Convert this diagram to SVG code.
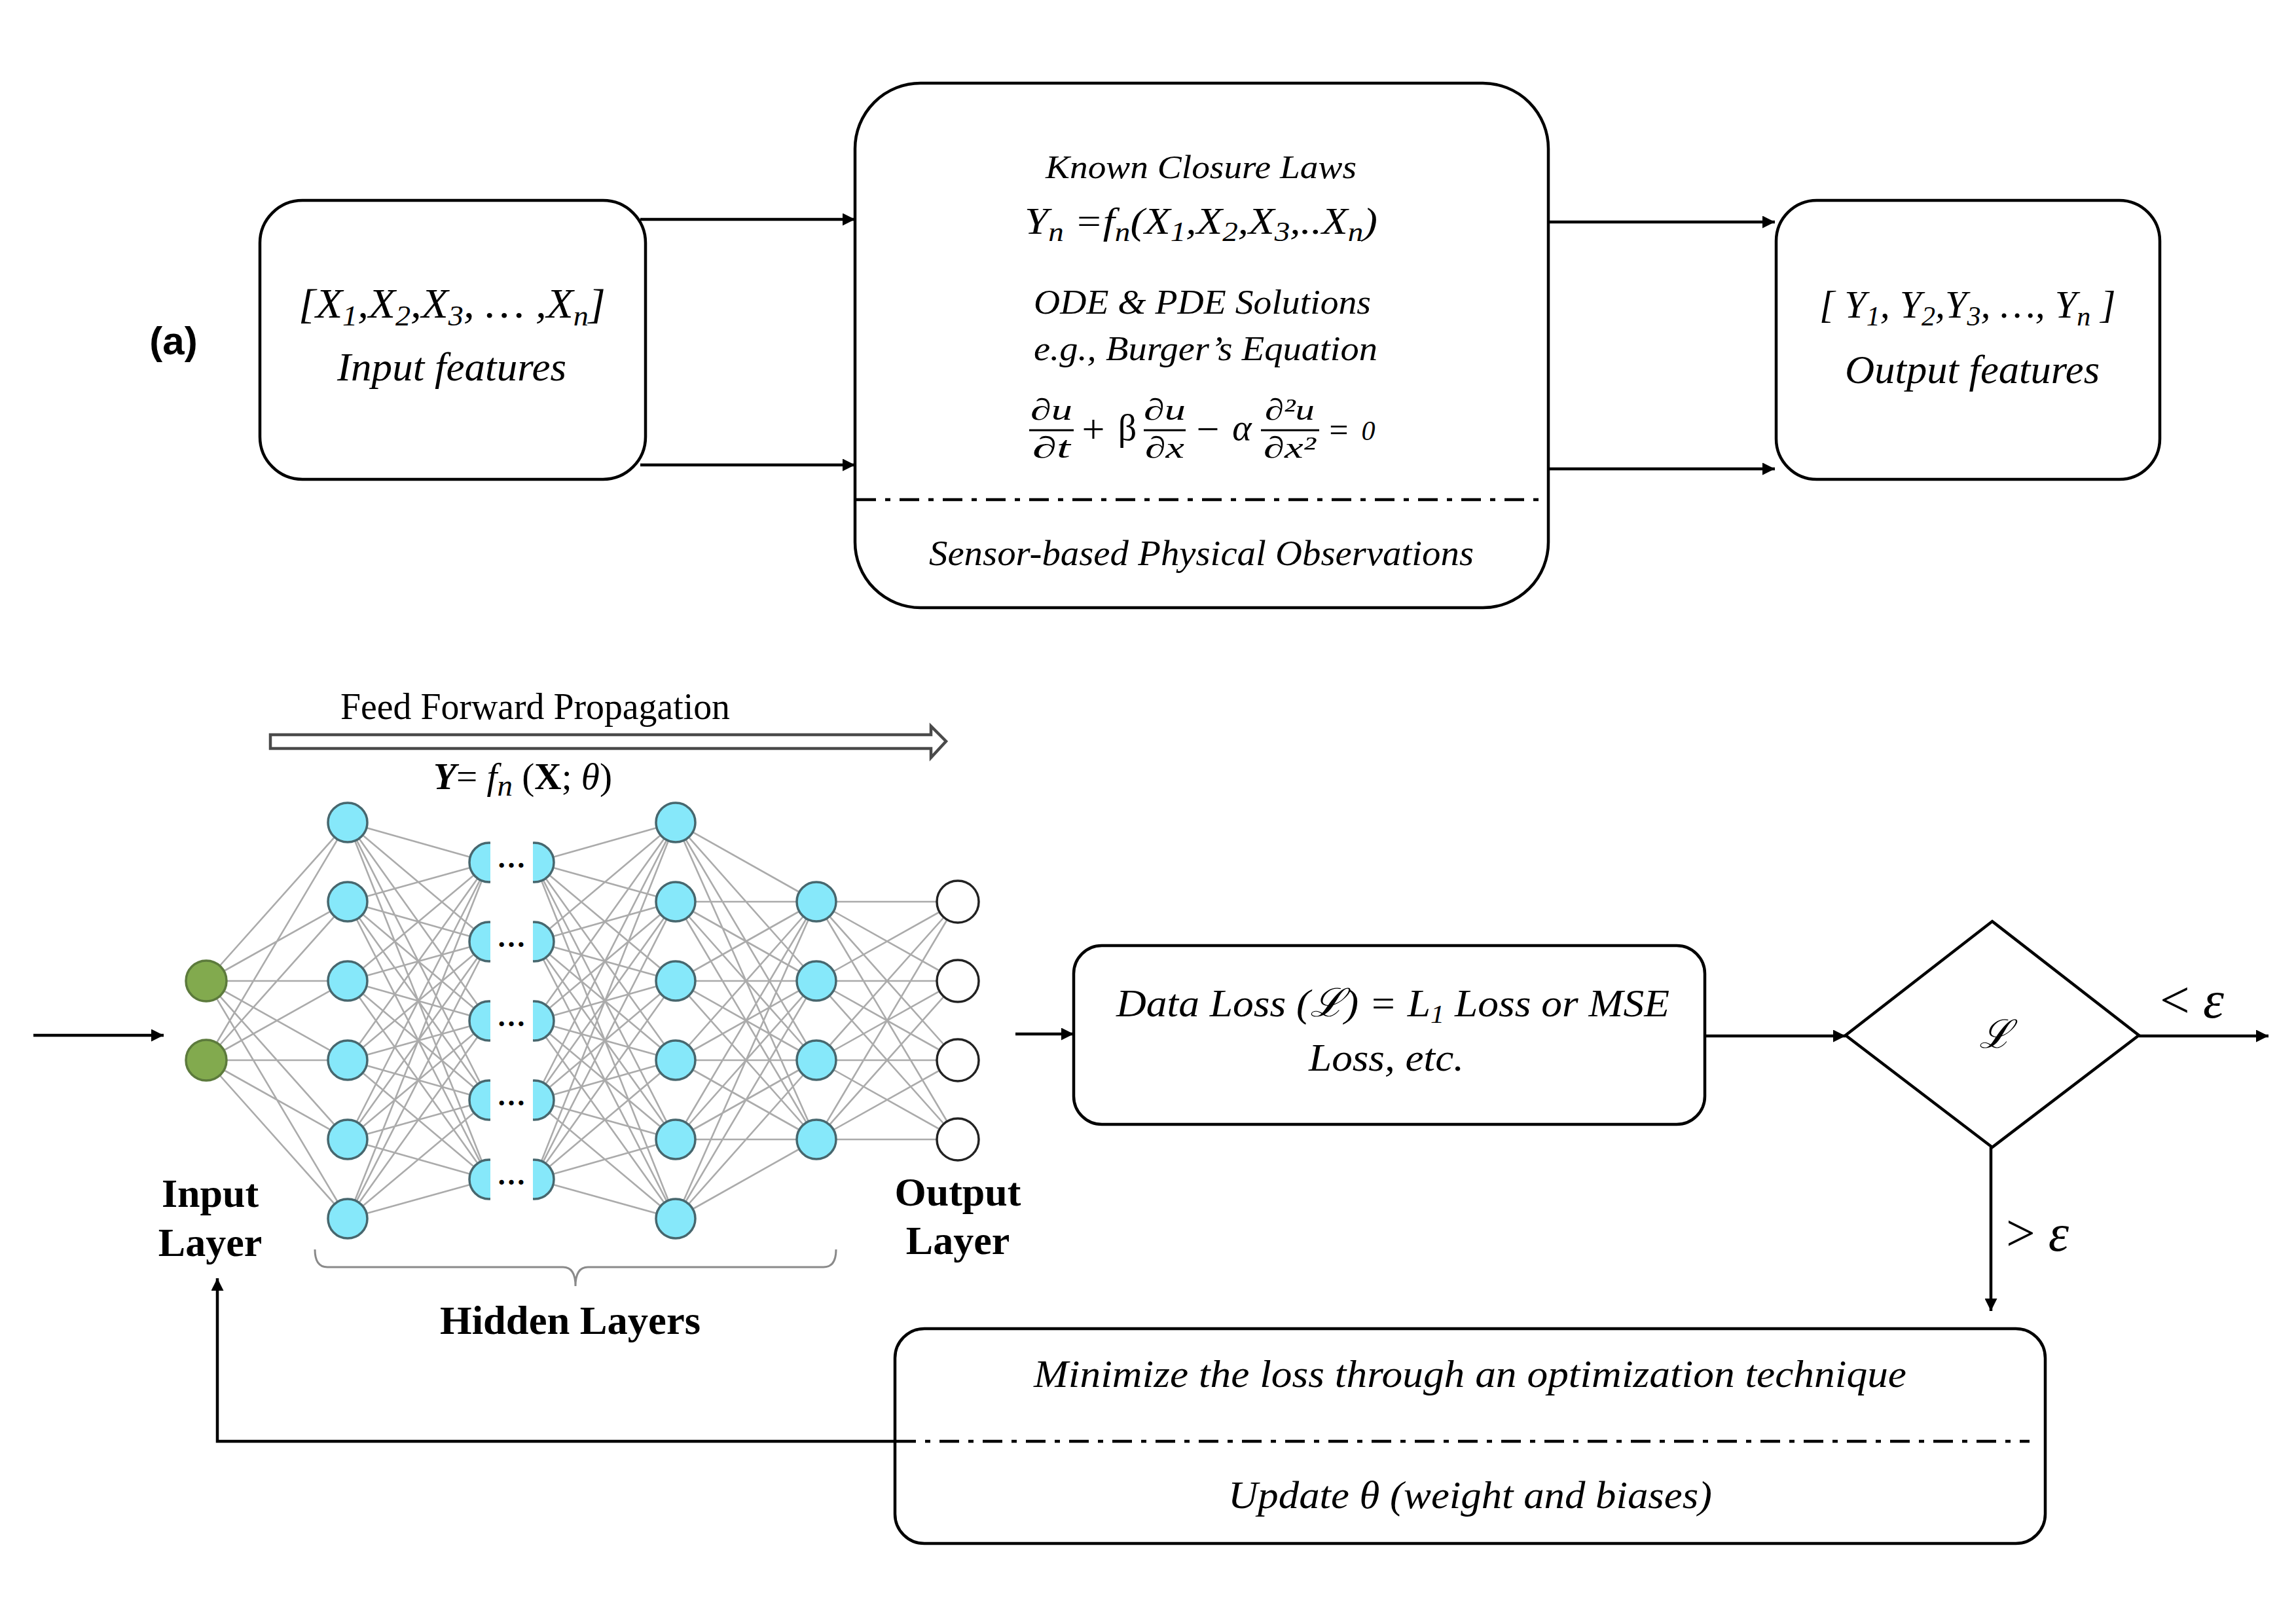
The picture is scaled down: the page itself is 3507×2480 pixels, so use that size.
<svg xmlns="http://www.w3.org/2000/svg" width="3507" height="2480" viewBox="0 0 3507 2480">
<style>
.box{fill:#fff;stroke:#000;stroke-width:4.5}
.conn{fill:none;stroke:#000;stroke-width:4.5;marker-end:url(#ah)}
.dd{fill:none;stroke:#000;stroke-width:4.5;stroke-dasharray:30 14 8 14}
.m{font-family:"Liberation Serif","DejaVu Serif",serif;font-style:italic;fill:#000}
.r{font-family:"Liberation Serif","DejaVu Serif",serif;fill:#000}
.b{font-family:"Liberation Serif","DejaVu Serif",serif;font-weight:bold;fill:#000}
.w{fill:none;stroke:#ababab;stroke-width:2.6}
.h{fill:#86E8FA;stroke:#47676e;stroke-width:3.5}
.g{fill:#82AA4E;stroke:#5c7a3c;stroke-width:3.5}
.o{fill:#fff;stroke:#222;stroke-width:3.5}
.bar{stroke:#000;stroke-width:3}
</style>
<defs>
<marker id="ah" viewBox="0 0 10 10" refX="10" refY="5" markerUnits="userSpaceOnUse" markerWidth="22" markerHeight="19" orient="auto"><path d="M0,0L10,5L0,10z" fill="#000"/></marker>
</defs>
<rect width="3507" height="2480" fill="#fff"/>

<text x="265" y="541" font-family="Liberation Sans, Arial, sans-serif" font-weight="bold" font-size="60" text-anchor="middle">(a)</text>

<g id="input-features">
<rect class="box" x="397" y="306" width="589" height="426" rx="65"/>
<text class="m" x="456" y="485" font-size="64" textLength="469" lengthAdjust="spacingAndGlyphs">[X<tspan font-size="44" dy="12">1</tspan><tspan dy="-12">,X</tspan><tspan font-size="44" dy="12">2</tspan><tspan dy="-12">,X</tspan><tspan font-size="44" dy="12">3</tspan><tspan dy="-12">, … ,X</tspan><tspan font-size="44" dy="12">n</tspan><tspan dy="-12">]</tspan></text>
<text class="m" x="515" y="581" font-size="62" textLength="350" lengthAdjust="spacingAndGlyphs">Input features</text>
</g>

<g id="physics-box">
<rect class="box" x="1306" y="127" width="1059" height="801" rx="100"/>
<text class="m" x="1597" y="272" font-size="50" textLength="475" lengthAdjust="spacingAndGlyphs">Known  Closure Laws</text>
<text class="m" x="1565" y="357" font-size="58" textLength="539" lengthAdjust="spacingAndGlyphs">Y<tspan font-size="42" dy="11">n</tspan><tspan dy="-11"> =f</tspan><tspan font-size="42" dy="11">n</tspan><tspan dy="-11">(X</tspan><tspan font-size="42" dy="11">1</tspan><tspan dy="-11">,X</tspan><tspan font-size="42" dy="11">2</tspan><tspan dy="-11">,X</tspan><tspan font-size="42" dy="11">3</tspan><tspan dy="-11">,..X</tspan><tspan font-size="42" dy="11">n</tspan><tspan dy="-11">)</tspan></text>
<text class="m" x="1579" y="479" font-size="52" textLength="515" lengthAdjust="spacingAndGlyphs">ODE &amp; PDE Solutions</text>
<text class="m" x="1579" y="550" font-size="52" textLength="525" lengthAdjust="spacingAndGlyphs">e.g., Burger’s Equation</text>
<g id="burgers">
<text class="m" x="1606" y="641" font-size="46" text-anchor="middle" textLength="64" lengthAdjust="spacingAndGlyphs">∂u</text>
<line class="bar" x1="1572" y1="657" x2="1640" y2="657"/>
<text class="m" x="1606" y="699" font-size="46" text-anchor="middle" textLength="58" lengthAdjust="spacingAndGlyphs">∂t</text>
<text class="r" x="1670" y="676" font-size="62" text-anchor="middle">+</text>
<text class="r" x="1722" y="672" font-size="56" text-anchor="middle">β</text>
<text class="m" x="1779" y="641" font-size="46" text-anchor="middle" textLength="64" lengthAdjust="spacingAndGlyphs">∂u</text>
<line class="bar" x1="1747" y1="657" x2="1811" y2="657"/>
<text class="m" x="1779" y="699" font-size="46" text-anchor="middle" textLength="60" lengthAdjust="spacingAndGlyphs">∂x</text>
<text class="r" x="1845" y="676" font-size="62" text-anchor="middle">−</text>
<text class="m" x="1897" y="672" font-size="56" text-anchor="middle">α</text>
<text class="m" x="1970" y="641" font-size="46" text-anchor="middle" textLength="76" lengthAdjust="spacingAndGlyphs">∂²u</text>
<line class="bar" x1="1926" y1="657" x2="2015" y2="657"/>
<text class="m" x="1970" y="699" font-size="46" text-anchor="middle" textLength="80" lengthAdjust="spacingAndGlyphs">∂x²</text>
<text class="r" x="2045" y="674" font-size="52" text-anchor="middle">=</text>
<text class="m" x="2090" y="672" font-size="42" text-anchor="middle">0</text>
</g>
<path class="dd" d="M1308,763L2360,763"/>
<text class="m" x="1419" y="863" font-size="54" textLength="832" lengthAdjust="spacingAndGlyphs">Sensor-based  Physical Observations</text>
</g>

<g id="output-features">
<rect class="box" x="2713" y="306" width="586" height="426" rx="62"/>
<text class="m" x="2779" y="485" font-size="60">[ Y<tspan font-size="42" dy="12">1</tspan><tspan dy="-12">, Y</tspan><tspan font-size="42" dy="12">2</tspan><tspan dy="-12">,Y</tspan><tspan font-size="42" dy="12">3</tspan><tspan dy="-12">, …, Y</tspan><tspan font-size="42" dy="12">n</tspan><tspan dy="-12"> ]</tspan></text>
<text class="m" x="2818" y="585" font-size="62" textLength="389" lengthAdjust="spacingAndGlyphs">Output features</text>
</g>

<g id="feed-forward">
<text class="r" x="520" y="1098" font-size="56" textLength="595" lengthAdjust="spacingAndGlyphs">Feed Forward Propagation</text>
<path d="M413,1122L1422,1122L1422,1109L1445,1132L1422,1157L1422,1143L413,1143Z" fill="#fff" stroke="#4a4a4a" stroke-width="4.5" stroke-linejoin="miter"/>
<text class="r" x="662" y="1205" font-size="56" textLength="273" lengthAdjust="spacingAndGlyphs"><tspan font-weight="bold" font-style="italic">Y</tspan>= <tspan font-style="italic">f</tspan><tspan font-style="italic" font-size="46" dy="10">n</tspan><tspan dy="-10"> (</tspan><tspan font-weight="bold">X</tspan>; <tspan font-style="italic">θ</tspan>)</text>
</g>

<g id="neural-network">
<g id="weights">
<path class="w" d="M315,1498L531,1256M315,1498L531,1377M315,1498L531,1498M315,1498L531,1619M315,1498L531,1740M315,1498L531,1861M315,1619L531,1256M315,1619L531,1377M315,1619L531,1498M315,1619L531,1619M315,1619L531,1740M315,1619L531,1861"/>
<path class="w" d="M531,1256L747,1317M531,1256L747,1438M531,1256L747,1559M531,1256L747,1680M531,1256L747,1801M531,1377L747,1317M531,1377L747,1438M531,1377L747,1559M531,1377L747,1680M531,1377L747,1801M531,1498L747,1317M531,1498L747,1438M531,1498L747,1559M531,1498L747,1680M531,1498L747,1801M531,1619L747,1317M531,1619L747,1438M531,1619L747,1559M531,1619L747,1680M531,1619L747,1801M531,1740L747,1317M531,1740L747,1438M531,1740L747,1559M531,1740L747,1680M531,1740L747,1801M531,1861L747,1317M531,1861L747,1438M531,1861L747,1559M531,1861L747,1680M531,1861L747,1801"/>
<path class="w" d="M816,1317L1032,1256M816,1317L1032,1377M816,1317L1032,1498M816,1317L1032,1619M816,1317L1032,1740M816,1317L1032,1861M816,1438L1032,1256M816,1438L1032,1377M816,1438L1032,1498M816,1438L1032,1619M816,1438L1032,1740M816,1438L1032,1861M816,1559L1032,1256M816,1559L1032,1377M816,1559L1032,1498M816,1559L1032,1619M816,1559L1032,1740M816,1559L1032,1861M816,1680L1032,1256M816,1680L1032,1377M816,1680L1032,1498M816,1680L1032,1619M816,1680L1032,1740M816,1680L1032,1861M816,1801L1032,1256M816,1801L1032,1377M816,1801L1032,1498M816,1801L1032,1619M816,1801L1032,1740M816,1801L1032,1861"/>
<path class="w" d="M1032,1256L1247,1377M1032,1256L1247,1498M1032,1256L1247,1619M1032,1256L1247,1740M1032,1377L1247,1377M1032,1377L1247,1498M1032,1377L1247,1619M1032,1377L1247,1740M1032,1498L1247,1377M1032,1498L1247,1498M1032,1498L1247,1619M1032,1498L1247,1740M1032,1619L1247,1377M1032,1619L1247,1498M1032,1619L1247,1619M1032,1619L1247,1740M1032,1740L1247,1377M1032,1740L1247,1498M1032,1740L1247,1619M1032,1740L1247,1740M1032,1861L1247,1377M1032,1861L1247,1498M1032,1861L1247,1619M1032,1861L1247,1740"/>
<path class="w" d="M1247,1377L1463,1377M1247,1377L1463,1498M1247,1377L1463,1619M1247,1377L1463,1740M1247,1498L1463,1377M1247,1498L1463,1498M1247,1498L1463,1619M1247,1498L1463,1740M1247,1619L1463,1377M1247,1619L1463,1498M1247,1619L1463,1619M1247,1619L1463,1740M1247,1740L1463,1377M1247,1740L1463,1498M1247,1740L1463,1619M1247,1740L1463,1740"/>
</g>
<g id="input-layer">
<circle class="g" cx="315" cy="1498" r="31"/>
<circle class="g" cx="315" cy="1619" r="31"/>
</g>
<g id="hidden-1">
<circle class="h" cx="531" cy="1256" r="30"/><circle class="h" cx="531" cy="1377" r="30"/><circle class="h" cx="531" cy="1498" r="30"/><circle class="h" cx="531" cy="1619" r="30"/><circle class="h" cx="531" cy="1740" r="30"/><circle class="h" cx="531" cy="1861" r="30"/>
</g>
<g id="hidden-2">
<circle class="h" cx="747" cy="1317" r="30"/><circle class="h" cx="747" cy="1438" r="30"/><circle class="h" cx="747" cy="1559" r="30"/><circle class="h" cx="747" cy="1680" r="30"/><circle class="h" cx="747" cy="1801" r="30"/>
<circle class="h" cx="816" cy="1317" r="30"/><circle class="h" cx="816" cy="1438" r="30"/><circle class="h" cx="816" cy="1559" r="30"/><circle class="h" cx="816" cy="1680" r="30"/><circle class="h" cx="816" cy="1801" r="30"/>
<rect x="749" y="1230" width="65" height="660" fill="#fff"/>
<g class="b" font-size="44" text-anchor="middle">
<text x="781" y="1325">…</text><text x="781" y="1446">…</text><text x="781" y="1567">…</text><text x="781" y="1688">…</text><text x="781" y="1809">…</text>
</g>
</g>
<g id="hidden-3">
<circle class="h" cx="1032" cy="1256" r="30"/><circle class="h" cx="1032" cy="1377" r="30"/><circle class="h" cx="1032" cy="1498" r="30"/><circle class="h" cx="1032" cy="1619" r="30"/><circle class="h" cx="1032" cy="1740" r="30"/><circle class="h" cx="1032" cy="1861" r="30"/>
</g>
<g id="hidden-4">
<circle class="h" cx="1247" cy="1377" r="30"/><circle class="h" cx="1247" cy="1498" r="30"/><circle class="h" cx="1247" cy="1619" r="30"/><circle class="h" cx="1247" cy="1740" r="30"/>
</g>
<g id="output-layer">
<circle class="o" cx="1463" cy="1377" r="32"/><circle class="o" cx="1463" cy="1498" r="32"/><circle class="o" cx="1463" cy="1619" r="32"/><circle class="o" cx="1463" cy="1740" r="32"/>
</g>
<text class="b" x="321" y="1843" font-size="62" text-anchor="middle">Input</text>
<text class="b" x="321" y="1918" font-size="62" text-anchor="middle">Layer</text>
<text class="b" x="1463" y="1841" font-size="62" text-anchor="middle">Output</text>
<text class="b" x="1463" y="1915" font-size="62" text-anchor="middle">Layer</text>
<path d="M481,1908Q481,1935 500,1935L860,1935Q879,1935 879,1964Q879,1935 898,1935L1258,1935Q1277,1935 1277,1908" fill="none" stroke="#8a8a8a" stroke-width="3"/>
<text class="b" x="871" y="2037" font-size="62" text-anchor="middle" textLength="398" lengthAdjust="spacingAndGlyphs">Hidden Layers</text>
</g>

<g id="data-loss">
<rect class="box" x="1640" y="1444" width="964" height="273" rx="43"/>
<text class="m" x="1705" y="1552" font-size="60" textLength="845" lengthAdjust="spacingAndGlyphs">Data Loss (ℒ) = L<tspan font-size="40" dy="10">1</tspan><tspan dy="-10"> Loss  or MSE</tspan></text>
<text class="m" x="1999" y="1635" font-size="60" textLength="237" lengthAdjust="spacingAndGlyphs">Loss, etc.</text>
</g>

<g id="decision">
<polygon points="3043,1407 3267,1581 3043,1752 2819,1581" fill="#fff" stroke="#000" stroke-width="4.5"/>
<text class="m" x="3048" y="1600" font-size="60" text-anchor="middle">ℒ</text>
</g>

<g id="optimizer">
<rect class="box" x="1367" y="2029" width="1757" height="328" rx="45"/>
<text class="m" x="1579" y="2118" font-size="60" textLength="1333" lengthAdjust="spacingAndGlyphs">Minimize the loss through an optimization technique</text>
<path class="dd" d="M1369,2201L3100,2201"/>
<text class="m" x="1876" y="2303" font-size="60" textLength="739" lengthAdjust="spacingAndGlyphs">Update θ (weight and biases)</text>
</g>

<g id="connectors">
<path class="conn" d="M978,335L1306,335"/>
<path class="conn" d="M978,710L1306,710"/>
<path class="conn" d="M2365,339L2711,339"/>
<path class="conn" d="M2365,716L2711,716"/>
<path class="conn" d="M51,1581L250,1581"/>
<path class="conn" d="M1551,1579L1640,1579"/>
<path class="conn" d="M2604,1582L2819,1582"/>
<path class="conn" d="M3267,1582L3465,1582"/>
<path class="conn" d="M3041,1752L3041,2002"/>
<path class="conn" d="M1367,2201L332,2201L332,1952"/>
<text class="r" x="3299" y="1554" font-size="80" textLength="98" lengthAdjust="spacingAndGlyphs">&lt; <tspan font-style="italic">ε</tspan></text>
<text class="r" x="3064" y="1910" font-size="80" textLength="96" lengthAdjust="spacingAndGlyphs">&gt; <tspan font-style="italic">ε</tspan></text>
</g>
</svg>
